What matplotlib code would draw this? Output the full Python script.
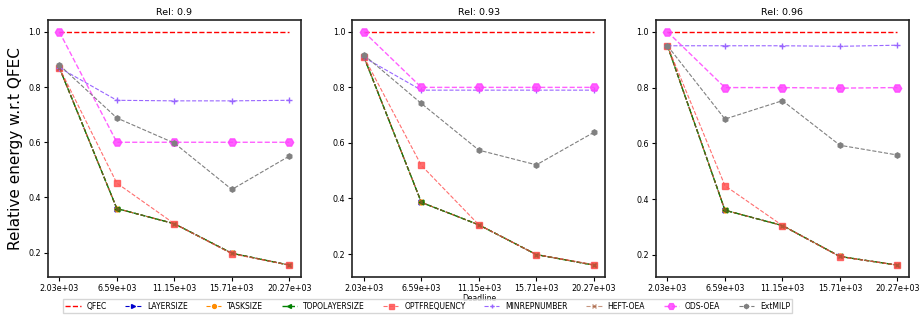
import matplotlib.pyplot as plt

deadlines = ["2.03e+03", "6.59e+03", "11.15e+03", "15.71e+03", "20.27e+03"]
rels = ["Rel: 0.9", "Rel: 0.93", "Rel: 0.96"]

# one list per method, one row per reliability panel
qfec = [[1.0, 1.0, 1.0, 1.0, 1.0],
        [1.0, 1.0, 1.0, 1.0, 1.0],
        [1.0, 1.0, 1.0, 1.0, 1.0]]
layersize = [[0.87, 0.36, 0.305, 0.198, 0.155],
             [0.91, 0.386, 0.305, 0.198, 0.16],
             [0.95, 0.36, 0.305, 0.194, 0.163]]
tasksize = [[0.87, 0.36, 0.305, 0.198, 0.155],
            [0.91, 0.386, 0.305, 0.198, 0.16],
            [0.95, 0.36, 0.305, 0.194, 0.163]]
topolayersize = [[0.87, 0.36, 0.305, 0.198, 0.155],
                 [0.91, 0.386, 0.305, 0.198, 0.16],
                 [0.95, 0.36, 0.305, 0.194, 0.163]]
optfrequency = [[0.87, 0.452, 0.305, 0.196, 0.155],
                [0.91, 0.519, 0.305, 0.198, 0.162],
                [0.95, 0.448, 0.305, 0.193, 0.163]]
minrepnumber = [[0.87, 0.752, 0.75, 0.75, 0.752],
                [0.908, 0.79, 0.79, 0.79, 0.79],
                [0.95, 0.95, 0.95, 0.948, 0.952]]
heft_oea = [[0.87, 0.36, 0.305, 0.198, 0.155],
            [0.91, 0.386, 0.305, 0.198, 0.16],
            [0.95, 0.36, 0.305, 0.194, 0.163]]
ods_oea = [[1.0, 0.6, 0.6, 0.6, 0.6],
           [1.0, 0.8, 0.8, 0.8, 0.8],
           [1.0, 0.8, 0.8, 0.798, 0.8]]
extmilp = [[0.88, 0.688, 0.597, 0.429, 0.55],
           [0.917, 0.742, 0.574, 0.521, 0.638],
           [0.95, 0.687, 0.753, 0.593, 0.558]]

series = [
    ("QFEC", qfec, "red", None, 4, 1.0, 1.0),
    ("LAYERSIZE", layersize, "mediumblue", ">", 3.5, 1.0, 0.8),
    ("TASKSIZE", tasksize, "darkorange", "o", 3.5, 1.0, 0.8),
    ("TOPOLAYERSIZE", topolayersize, "green", "<", 3.5, 1.0, 1.0),
    ("OPTFREQUENCY", optfrequency, "#ff5555", "s", 4.5, 0.85, 0.8),
    ("MINREPNUMBER", minrepnumber, "#9966ff", "+", 4, 1.0, 0.8),
    ("HEFT-OEA", heft_oea, "sienna", "x", 3.5, 0.6, 0.8),
    ("ODS-OEA", ods_oea, "#ff44ff", "H", 6, 0.85, 1.0),
    ("ExtMILP", extmilp, "gray", "h", 3.8, 1.0, 0.8),
]

fig = plt.figure(figsize=(9.2, 3.2), dpi=100)
lefts = [0.052, 0.383, 0.713]
x = list(range(len(deadlines)))
for p in range(3):
    ax = fig.add_axes([lefts[p], 0.135, 0.275, 0.802])
    for name, vals, col, mk, ms, al, lw in series:
        ax.plot(x, vals[p], linestyle="--", color=col, marker=mk, markersize=ms,
                alpha=al, linewidth=lw, label=name)
    ax.set_xticks(x)
    ax.set_xticklabels(deadlines, fontsize=5.8)
    ax.set_yticks([0.2, 0.4, 0.6, 0.8, 1.0])
    ax.tick_params(axis="y", labelsize=5.8)
    ax.tick_params(length=3, width=0.8, pad=2)
    ax.set_title(rels[p], fontsize=6.8, pad=4)
    for s in ax.spines.values():
        s.set_color("#222222")
        s.set_linewidth(1.2)
    if p == 0:
        ax.set_ylabel("Relative energy w.r.t QFEC", fontsize=11)
        handles, labels = ax.get_legend_handles_labels()
    if p == 1:
        ax.set_xlabel("Deadline", fontsize=5.5, labelpad=1)

fig.legend(handles, labels, loc="lower center", ncol=9, fontsize=5.5,
           bbox_to_anchor=(0.465, 0.01), frameon=True, handlelength=2.0,
           columnspacing=2.4, borderpad=0.3, markerscale=0.8,
           fancybox=False, edgecolor="#cccccc")
fig.savefig("out.png", dpi=100)
